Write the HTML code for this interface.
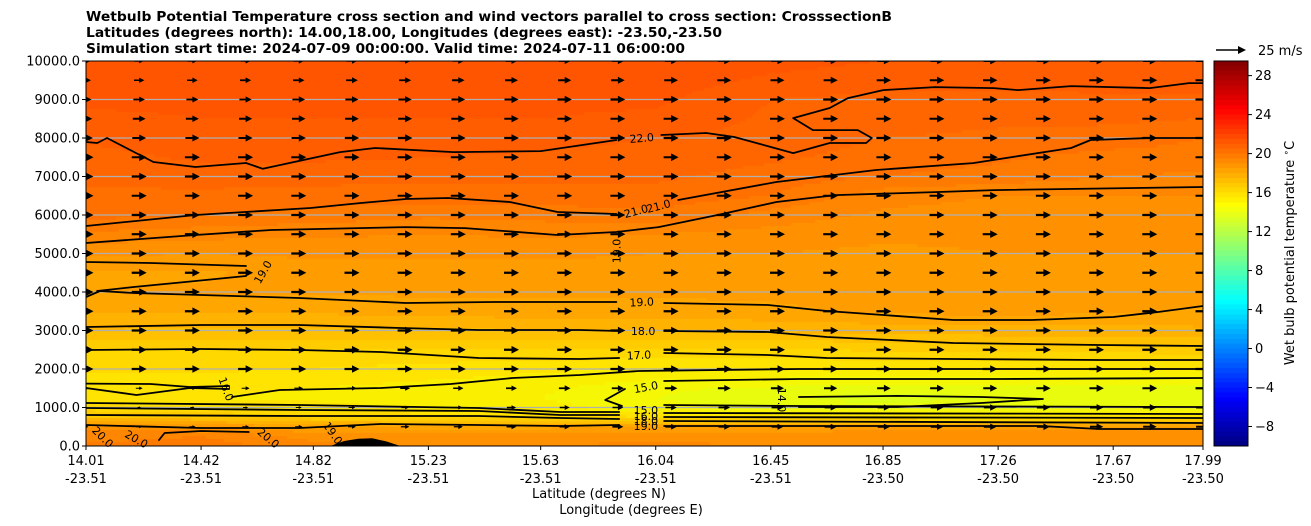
<!DOCTYPE html>
<html><head><meta charset="utf-8"><style>
html,body{margin:0;padding:0;background:#fff;width:1311px;height:526px;overflow:hidden}
#wrap{position:relative;width:1311px;height:526px}
canvas{position:absolute;left:86px;top:61px}
svg{position:absolute;left:0;top:0}
text{font-family:"DejaVu Sans","Liberation Sans",sans-serif}
</style></head><body>
<div id="wrap">
<canvas id="field" width="1117" height="385"></canvas>
<svg id="svg" width="1311" height="526" xmlns="http://www.w3.org/2000/svg">
<g font-weight="bold" font-size="13">
<text x="86" y="21" textLength="806" lengthAdjust="spacingAndGlyphs">Wetbulb Potential Temperature cross section and wind vectors parallel to cross section: CrosssectionB</text>
<text x="86" y="37" textLength="636" lengthAdjust="spacingAndGlyphs">Latitudes (degrees north): 14.00,18.00, Longitudes (degrees east): -23.50,-23.50</text>
<text x="86" y="53" textLength="599" lengthAdjust="spacingAndGlyphs">Simulation start time: 2024-07-09 00:00:00, Valid time: 2024-07-11 06:00:00</text>
</g>
<text x="21" y="253" font-size="13" text-anchor="middle" transform="rotate(-90 21 253)">Altitude (meters)</text>
<text x="599" y="498" font-size="13" text-anchor="middle">Latitude (degrees N)</text>
<text x="631" y="514" font-size="13" text-anchor="middle">Longitude (degrees E)</text>
<text x="1294" y="253" font-size="13" text-anchor="middle" transform="rotate(-90 1294 253)">Wet bulb potential temperature <tspan font-size="9" dy="-5">∘</tspan><tspan dy="5">C</tspan></text>
<g id="grid"></g><g id="contours"></g><g id="terrain"></g><g id="labels"></g><g id="arrows"></g><g id="axes"></g><g id="cbar"></g>
<g>
<polygon points="1216,49.2 1238,49.2 1238,46 1246,50 1238,54 1238,50.8 1216,50.8" fill="#000"/>
<text x="1258" y="55" font-size="13">25 m/s</text>
</g>
</svg>
</div>
<script>
// ---------- data ----------
const fieldLats = [14.01,14.42,14.82,15.23,15.63,16.04,16.45,16.85,17.26,17.67,17.99];
const fieldAlts = [0,250,500,750,1000,1250,1500,2000,2500,3000,3500,4000,4500,5000,5500,6000,6500,7000,7500,8000,8500,9000,9500,10000];
const tempCol0  = [20.6,20.3,19.8,17.5,16.8,16.1,16.1,16.6,17.0,18.0,18.6,19.0,18.9,19.6,20.4,21.2,21.4,21.6,21.8,22.1,22.4,22.6,22.7,22.8];
const tempCol1  = [20.8,20.5,19.5,17.5,16.5,16.0,16.1,16.6,17.0,17.9,18.6,19.1,18.9,19.5,20.2,21.0,21.4,21.7,22.1,22.3,22.5,22.6,22.7,22.8];
const tempCol2  = [20.2,19.8,19.0,17.0,16.2,15.9,16.0,16.5,17.0,17.9,18.6,19.1,19.3,19.6,20.1,20.8,21.3,21.7,22.1,22.3,22.5,22.6,22.7,22.8];
const tempCol3  = [20.0,19.7,18.8,16.8,15.9,15.7,15.8,16.3,17.0,17.9,18.7,19.1,19.3,19.6,20.0,20.6,21.3,21.6,22.0,22.3,22.5,22.6,22.7,22.8];
const tempCol4  = [20.0,19.8,18.8,16.8,15.7,15.5,15.6,16.1,17.0,18.0,18.8,19.1,19.3,19.6,20.1,20.7,21.3,21.6,21.9,22.2,22.5,22.6,22.8,22.9];
const tempCol5  = [20.1,19.9,19.0,16.5,15.2,15.0,15.1,16.0,16.9,18.0,18.8,19.1,19.3,19.5,20.0,20.9,21.3,21.6,21.8,22.0,22.4,22.6,22.8,22.9];
const tempCol6  = [20.0,19.8,19.1,16.5,14.8,14.6,14.9,16.0,16.9,18.1,18.9,19.1,19.3,19.5,19.8,20.3,21.0,21.3,21.6,21.8,21.9,22.0,22.4,22.7];
const tempCol7  = [20.0,19.9,19.2,16.3,14.6,14.3,14.7,16.0,17.1,18.2,19.1,19.2,19.3,19.4,19.6,19.9,20.2,21.0,21.3,21.5,21.7,21.85,22.2,22.5];
const tempCol8  = [20.0,19.9,19.3,16.2,14.8,14.5,14.8,16.0,17.2,18.3,19.2,19.3,19.4,19.5,19.6,19.8,20.0,20.8,21.1,21.4,21.6,21.85,22.2,22.5];
const tempCol9  = [20.0,19.9,19.2,16.3,15.0,14.8,14.8,16.0,17.2,18.3,19.1,19.3,19.4,19.5,19.6,19.8,20.0,20.5,20.8,21.3,21.6,21.9,22.2,22.5];
const tempCol10 = [20.0,19.9,19.2,16.4,15.0,14.8,14.8,16.0,17.3,18.4,18.9,19.2,19.4,19.5,19.6,19.8,20.0,20.4,20.8,21.0,21.5,21.9,22.2,22.5];
const tempCols = [tempCol0,tempCol1,tempCol2,tempCol3,tempCol4,tempCol5,tempCol6,tempCol7,tempCol8,tempCol9,tempCol10];

const contours = [
 {level:22, lat:[14.01,14.05,14.085,14.25,14.40,14.58,14.64,14.915,15.04,15.32,15.63,15.90], alt:[7895,7870,7999,7376,7246,7350,7200,7635,7739,7635,7660,7947]},
 {level:22, lat:[16.06,16.22,16.32,16.53,16.66,16.79,16.81,16.76,16.60,16.53,16.66,16.725,16.85,17.035,17.245,17.33,17.52,17.80,17.94,17.99], alt:[8077,8129,8025,7609,7869,7869,8000,8206,8206,8518,8778,9037,9245,9323,9297,9245,9349,9297,9427,9427]},
 {level:21, lat:[14.01,14.40,14.81,14.99,15.15,15.30,15.52,15.69,15.90], alt:[5713,5999,6181,6311,6415,6441,6337,6077,6025]},
 {level:21, lat:[16.12,16.47,16.825,17.17,17.52,17.59,17.80,17.99], alt:[6389,6856,7168,7349,7739,7947,7999,7999]},
 {level:20, lat:[14.01,14.40,14.67,15.15,15.36,15.69,15.90,16.05,16.26,16.47,16.68,17.035,17.245,17.99], alt:[5272,5480,5610,5687,5661,5480,5558,5687,5999,6337,6518,6596,6648,6726]},
 {level:19, lat:[14.01,14.24,14.58], alt:[4778,4752,4675]},
 {level:19, lat:[14.05,14.18,14.40,14.58], alt:[4025,4129,4285,4415]},
 {level:19, lat:[14.01,14.06,14.18,14.42,14.77,15.15,15.46,15.90], alt:[3869,4025,3973,3921,3844,3714,3740,3740]},
 {level:19, lat:[16.07,16.44,16.65,17.10,17.38,17.67,17.83,17.99], alt:[3714,3662,3506,3272,3272,3350,3480,3636]},
 {level:18, lat:[14.01,14.42,14.77,15.13,15.41,15.77,15.91], alt:[3090,3142,3142,3064,3013,3013,2987]},
 {level:18, lat:[16.07,16.44,16.65,17.10,17.62,17.99], alt:[2987,2961,2830,2675,2623,2597]},
 {level:17, lat:[14.01,14.42,14.77,15.06,15.41,15.77,15.91], alt:[2493,2519,2493,2441,2285,2259,2285]},
 {level:17, lat:[16.07,16.44,16.65,17.10,17.62,17.99], alt:[2415,2363,2285,2259,2233,2233]},
 {level:16, lat:[14.53,14.70,15.06,15.31,15.53,15.77,15.98,16.55,17.99], alt:[1272,1454,1506,1610,1766,1844,1948,2000,2000]},
 {level:16, lat:[14.01,14.24,14.38,14.52], alt:[1620,1610,1532,1558]},
 {level:16, lat:[14.01,14.19,14.38,14.52], alt:[1506,1324,1506,1480]},
 {level:15, lat:[17.99,17.27,16.55,16.07], alt:[1766,1740,1740,1688]},
 {level:15, lat:[15.93,15.86,15.92], alt:[1480,1195,1039]},
 {level:15, lat:[16.07,16.55,17.99], alt:[1065,1039,1013]},
 {level:14, lat:[16.55,16.90,17.20,17.42,17.20,16.90,16.55], alt:[1272,1300,1272,1220,1117,1013,1013]},
 {level:16, lat:[14.01,14.77,15.41,15.70,15.91], alt:[1117,1065,987,883,883]},
 {level:16, lat:[16.07,17.99], alt:[857,831]},
 {level:17, lat:[14.01,14.77,15.41,15.70,15.91], alt:[987,935,909,805,805]},
 {level:17, lat:[16.07,17.99], alt:[753,727]},
 {level:18, lat:[14.01,14.77,15.41,15.70,15.91], alt:[805,779,779,727,701]},
 {level:18, lat:[16.07,17.99], alt:[649,597]},
 {level:19, lat:[14.01,14.42,14.77,15.06,15.41,15.70,15.91], alt:[545,467,467,571,545,519,545]},
 {level:19, lat:[16.07,17.41,17.62,17.99], alt:[519,519,441,441]},
 {level:20, lat:[14.27,14.29,14.42,14.59], alt:[156,338,390,364]}
];
const terrainLat = [14.88,14.93,14.98,15.03,15.08,15.13];
const terrainAlt = [0,130,190,200,120,0];

const labelText = ["22.0","21.0","21.0","19.0","19.0","19.0","18.0","17.0","15.0","14.0","15.0","16.0","18.0","19.0","16.0","20.0","20.0","20.0","19.0"];
const labelLat  = [15.99,15.97,16.05,15.90,14.64,15.99,15.995,15.98,16.005,16.49,16.005,16.005,16.005,16.005,14.51,14.07,14.19,14.66,14.89];
const labelAlt  = [8000,6103,6233,5064,4519,3740,2987,2363,1532,1195,935,780,650,519,1480,234,182,208,338];
const labelRot  = [-5,-15,-15,-90,-60,-3,0,-3,-10,90,0,0,0,0,70,45,30,40,55];

const windAlt  = [500,1000,1500,2000,2500,3000,3500,4000,4500,5000,5500,6000,6500,7000,7500,8000,8500,9000,9500,10000];
const windWest = [4,2,5,12,12,12,12,12,12,12,12,12,12,12,12,11,10,9,8,7];
const windMid  = [9,9,10,12,12,12,12,12,12,12,12,12,12,12,12,12,12,12,11,10];
const windEast = [11,11,12,12,12,12,12,12,12,12,12,12,12,12,12,12,12,12,12,11];
const windColumns = 22;

const yTicks = [0,1000,2000,3000,4000,5000,6000,7000,8000,9000,10000];
const xTickLats = [14.01,14.42,14.82,15.23,15.63,16.04,16.45,16.85,17.26,17.67,17.99];
const xTickLons = ["-23.51","-23.51","-23.51","-23.51","-23.51","-23.51","-23.51","-23.50","-23.50","-23.50","-23.50"];
const cbTicks = [-8,-4,0,4,8,12,16,20,24,28];
const cbMin = -10, cbMax = 29.5;

// ---------- scales ----------
const LAT0=14.01, LAT1=17.99, X0=86, X1=1203, Y0=446, Y1=61;
function xs(lat){return X0+(lat-LAT0)/(LAT1-LAT0)*(X1-X0);}
function ys(alt){return Y0-alt/10000*(Y0-Y1);}
function cbY(v){return Y0-(v-cbMin)/(cbMax-cbMin)*(Y0-Y1);}
const NS="http://www.w3.org/2000/svg";
function mk(tag,attrs,parent){const e=document.createElementNS(NS,tag);for(const k in attrs)e.setAttribute(k,attrs[k]);parent.appendChild(e);return e;}

function jet(t){t=Math.max(0,Math.min(1,t));const c=v=>Math.round(255*Math.max(0,Math.min(1,v)));
 return [c(1.5-Math.abs(4*t-3)),c(1.5-Math.abs(4*t-2)),c(1.5-Math.abs(4*t-1))];}
const fStopsT=[13.5,14.5,15.5,16.5,17.5,18.5,19.5,20.5,21.5,22.5,23.5];
const fStopsC=[[200,255,40],[228,255,18],[250,244,0],[255,222,0],[255,198,0],[255,172,0],[255,150,0],[255,128,0],[255,106,0],[255,88,0],[255,75,0]];
function fieldColor(T){
 if(T<=fStopsT[0])return fStopsC[0];
 for(let i=0;i<fStopsT.length-1;i++){if(T<=fStopsT[i+1]){const f=(T-fStopsT[i])/(fStopsT[i+1]-fStopsT[i]);
  return fStopsC[i].map((v,k)=>Math.round(v+(fStopsC[i+1][k]-v)*f));}}
 return fStopsC[fStopsC.length-1];}
function idx(arr,v){for(let i=0;i<arr.length-1;i++){if(v<=arr[i+1])return i;}return arr.length-2;}
function tempAt(lat,alt){
 const i=idx(fieldLats,lat), j=idx(fieldAlts,alt);
 const fx=Math.max(0,Math.min(1,(lat-fieldLats[i])/(fieldLats[i+1]-fieldLats[i])));
 const fy=Math.max(0,Math.min(1,(alt-fieldAlts[j])/(fieldAlts[j+1]-fieldAlts[j])));
 const a=tempCols[i][j],b=tempCols[i+1][j],c=tempCols[i][j+1],d=tempCols[i+1][j+1];
 return (a*(1-fx)+b*fx)*(1-fy)+(c*(1-fx)+d*fx)*fy;}

// ---------- field ----------
const ctx=document.getElementById('field').getContext('2d');
const step=3;
for(let px=0;px<1117;px+=step){for(let py=0;py<385;py+=step){
 const lat=LAT0+(px+step/2)/1117*(LAT1-LAT0), alt=(385-py-step/2)/385*10000;
 let T=tempAt(lat,alt); T=Math.floor(T*2)/2+0.25;
 const c=fieldColor(T); ctx.fillStyle='rgb('+c[0]+','+c[1]+','+c[2]+')'; ctx.fillRect(px,py,step,step);}}

const svg=document.getElementById('svg');
// ---------- grid ----------
const gG=document.getElementById('grid');
yTicks.forEach(v=>{ if(v===0||v===10000)return;
 const l=mk('line',{x1:X0,x2:X1,y1:ys(v),y2:ys(v),stroke:'#b0b0b0','stroke-width':1.2},gG);
 
 });
// ---------- contours ----------
const gC=document.getElementById('contours');
contours.forEach((c,k)=>{
 const pts=c.lat.map((la,i)=>xs(la).toFixed(1)+','+ys(c.alt[i]).toFixed(1)).join(' ');
 const p=mk('polyline',{points:pts,fill:'none',stroke:'#000','stroke-width':1.8,'stroke-linejoin':'round','stroke-linecap':'round'},gC);
 
 });
// terrain
const tp=mk('polygon',{points:terrainLat.map((la,i)=>xs(la).toFixed(1)+','+ys(terrainAlt[i]).toFixed(1)).join(' '),fill:'#000'},document.getElementById('terrain'));


// labels
const gL=document.getElementById('labels');
labelText.forEach((t,i)=>{const x=xs(labelLat[i]),y=ys(labelAlt[i]);
 const e=mk('text',{x:x,y:y+4,'font-size':11,'text-anchor':'middle',transform:'rotate('+labelRot[i]+' '+x+' '+y+')'},gL);
 e.textContent=t;
 
 });
// ---------- wind arrows ----------
const gA=document.getElementById('arrows');
const pxPerMs=1.25;
for(let r=0;r<windAlt.length;r++){
 for(let k=0;k<windColumns;k++){
  const f=k/(windColumns-1);
  const s = f<0.5 ? windWest[r]+(windMid[r]-windWest[r])*(f/0.5) : windMid[r]+(windEast[r]-windMid[r])*((f-0.5)/0.5);
  const L=s*pxPerMs; if(L<=0)continue;
  const sc=Math.min(1,L/15);
  const cx=X0+f*(X1-X0), cy=ys(windAlt[r]);
  const x0=cx-L/2, x1=cx+L/2, hl=Math.max(2,7.5*sc), hw=Math.max(1.2,3.8*sc), sw=Math.max(0.5,1.1*sc);
  const pts=[[x0,cy-sw],[x1-hl,cy-sw],[x1-hl,cy-hw],[x1,cy],[x1-hl,cy+hw],[x1-hl,cy+sw],[x0,cy+sw]].map(p=>p[0].toFixed(1)+','+p[1].toFixed(1)).join(' ');
  const a=mk('polygon',{points:pts,fill:'#000'},gA);
  
  
 }}
// ---------- axes ----------
const gX=document.getElementById('axes');
const clip=mk('rect',{x:0,y:58,width:X0,height:390,fill:'#fff'},gX);


const clip2=mk('rect',{x:X1,y:Y1-8,width:10,height:Y0-Y1+9,fill:'#fff'},gX);


const clip3=mk('rect',{x:X0,y:Y1-8,width:X1-X0,height:8,fill:'#fff'},gX);


const fr=mk('rect',{x:X0,y:Y1,width:X1-X0,height:Y0-Y1,fill:'none',stroke:'#000','stroke-width':1},gX);


yTicks.forEach(v=>{const y=ys(v);
 const t=mk('line',{x1:X0-4,x2:X0,y1:y,y2:y,stroke:'#000'},gX);
 
 
 const l=mk('text',{x:X0-6,y:y+4.5,'font-size':13,'text-anchor':'end'},gX); l.textContent=v.toFixed(1);
 
 });
xTickLats.forEach((la,i)=>{const x=xs(la);
 const t=mk('line',{x1:x,x2:x,y1:Y0,y2:Y0+4,stroke:'#000'},gX);
 
 
 const l=mk('text',{x:x,y:465,'font-size':13,'text-anchor':'middle'},gX); l.textContent=la.toFixed(2);
 
 
 const l2=mk('text',{x:x,y:483,'font-size':13,'text-anchor':'middle'},gX); l2.textContent=xTickLons[i];
 
 });
// ---------- colorbar ----------
const gB=document.getElementById('cbar');
const defs=mk('defs',{},gB);
const grad=mk('linearGradient',{id:'jetg',x1:0,y1:1,x2:0,y2:0},defs);
for(let v=cbMin;v<cbMax;v+=0.5){const c=jet((v+0.25-cbMin)/(cbMax-cbMin));const col='rgb('+c.join(',')+')';
 mk('stop',{offset:((v-cbMin)/(cbMax-cbMin)).toFixed(4),'stop-color':col},grad);
 mk('stop',{offset:((v+0.5-cbMin)/(cbMax-cbMin)).toFixed(4),'stop-color':col},grad);}
const cb=mk('rect',{x:1214,y:Y1,width:34,height:Y0-Y1,fill:'url(#jetg)',stroke:'#000','stroke-width':1},gB);


cbTicks.forEach(v=>{const y=cbY(v);
 const t=mk('line',{x1:1248,x2:1252,y1:y,y2:y,stroke:'#000'},gB);
 
 
 const l=mk('text',{x:1255,y:y+4.5,'font-size':13},gB); l.textContent=(v<0?'\u2212'+(-v):String(v));
 
 });
</script>
</body></html>
